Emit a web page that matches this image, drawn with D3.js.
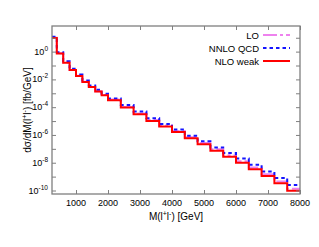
<!DOCTYPE html>
<html>
<head>
<meta charset="utf-8">
<script src="https://cdn.jsdelivr.net/npm/d3@7"></script>
<style>
  body { margin: 0; background: #fff; }
  text { font-family: "Liberation Sans", Arial, sans-serif; fill: #000; }
</style>
</head>
<body>
<div id="chart"></div>
<script>
// bin edges in GeV
let binEdges = [250, 400, 600, 800, 1000, 1200, 1400, 1600, 1800, 2000, 2400, 2800,
                3200, 3600, 4000, 4400, 4800, 5200, 5600, 6000, 6400, 6800, 7200, 7600, 8000];

// dsigma/dM per bin [fb/GeV]
let loValues = [10, 0.76, 0.162, 0.048, 0.0182, 0.0068, 0.003, 0.00141, 7.6e-4, 3.5e-4,
                1.05e-4, 3.5e-5, 1.17e-5, 4.7e-6, 1.9e-6, 6.9e-7, 2.6e-7, 9.3e-8, 3.5e-8,
                1.29e-8, 4.5e-9, 1.45e-9, 4.5e-10, 1.32e-10];
let nnloValues = [11.7, 0.89, 0.2, 0.059, 0.0224, 0.0083, 0.0037, 0.00178, 9.3e-4, 4.3e-4,
                  1.41e-4, 4.8e-5, 1.58e-5, 6.2e-6, 2.5e-6, 8.9e-7, 3.5e-7, 1.26e-7, 5.0e-8,
                  2.0e-8, 7.2e-9, 2.3e-9, 7.9e-10, 2.5e-10];
let nloWeakValues = [9.5, 0.74, 0.158, 0.047, 0.0174, 0.0065, 0.0028, 0.00132, 7.1e-4, 3.2e-4,
                     9.3e-5, 3.1e-5, 1.02e-5, 4.0e-6, 1.6e-6, 5.8e-7, 2.1e-7, 7.4e-8, 2.75e-8,
                     1.0e-8, 3.4e-9, 1.1e-9, 3.3e-10, 9.8e-11];

let xTicks = [1000, 2000, 3000, 4000, 5000, 6000, 7000, 8000];
let yTicks = [1e1, 1e0, 1e-1, 1e-2, 1e-3, 1e-4, 1e-5, 1e-6, 1e-7, 1e-8, 1e-9, 1e-10];
let yLabelExps = [0, -2, -4, -6, -8, -10];

let series = [
  {name: "LO", values: loValues, color: "#ee82ee", dash: "14,3,3,3"},
  {name: "NNLO QCD", values: nnloValues, color: "#1414ff", dash: "3.5,3"},
  {name: "NLO weak", values: nloWeakValues, color: "#ff0000", dash: null}
];

// setup SVG
let svgWidth = 319, svgHeight = 247;
let margin = {top: 26, right: 19, bottom: 53, left: 52};
let bodyWidth = svgWidth - margin.left - margin.right;
let bodyHeight = svgHeight - margin.top - margin.bottom;

let svg = d3.select("#chart").append("svg")
  .attr("width", svgWidth)
  .attr("height", svgHeight);

let chartGroup = svg.append("g")
  .attr("transform", `translate(${margin.left},${margin.top})`);

let xScale = d3.scaleLinear().domain([250, 8000]).range([0, bodyWidth]);
let yScale = d3.scaleLog().domain([5.6e-11, 70]).range([bodyHeight, 0]);

svg.append("defs").append("clipPath").attr("id", "clip")
  .append("rect").attr("width", bodyWidth).attr("height", bodyHeight);

// step lines
let line = d3.line()
  .x(d => xScale(d[0]))
  .y(d => yScale(d[1]))
  .curve(d3.curveStepAfter);

let plot = chartGroup.append("g").attr("clip-path", "url(#clip)");
series.forEach(s => {
  let pts = s.values.map((v, i) => [binEdges[i], v]);
  pts.push([binEdges[binEdges.length - 1], s.values[s.values.length - 1]]);
  plot.append("path")
    .datum(pts)
    .attr("d", line)
    .attr("fill", "none")
    .attr("stroke", s.color)
    .attr("stroke-width", 2)
    .attr("stroke-dasharray", s.dash);
});

// axes (ticks inward, mirrored)
let borderColor = "#7f7f7f";
function styleAxis(g) {
  g.select(".domain").remove();
  g.selectAll(".tick line").attr("stroke", borderColor).attr("stroke-width", 1);
  g.selectAll(".tick text").remove();
}
chartGroup.append("g").attr("transform", `translate(0,${bodyHeight})`)
  .call(d3.axisBottom(xScale).tickValues(xTicks).tickSize(-4).tickFormat(""))
  .call(styleAxis);
chartGroup.append("g")
  .call(d3.axisTop(xScale).tickValues(xTicks).tickSize(-4).tickFormat(""))
  .call(styleAxis);
chartGroup.append("g")
  .call(d3.axisLeft(yScale).tickValues(yTicks).tickSize(-4).tickFormat(""))
  .call(styleAxis);
chartGroup.append("g").attr("transform", `translate(${bodyWidth},0)`)
  .call(d3.axisRight(yScale).tickValues(yTicks).tickSize(-4).tickFormat(""))
  .call(styleAxis);

chartGroup.append("rect")
  .attr("width", bodyWidth).attr("height", bodyHeight)
  .attr("fill", "none").attr("stroke", borderColor).attr("stroke-width", 1.3);

// x tick labels
chartGroup.append("g").selectAll("text")
  .data(xTicks.filter(d => d >= 1000))
  .enter().append("text")
  .attr("x", d => xScale(d))
  .attr("y", bodyHeight + 12)
  .attr("text-anchor", "middle")
  .attr("font-size", "9px")
  .text(d => d);

// y tick labels 10^n
let yLab = chartGroup.append("g").selectAll("text")
  .data(yLabelExps)
  .enter().append("text")
  .attr("x", -4)
  .attr("y", d => yScale(Math.pow(10, d)) + 3)
  .attr("text-anchor", "end")
  .attr("font-size", "9px");
yLab.append("tspan").text("10");
yLab.append("tspan").attr("font-size", "6.5px").attr("dy", -4).text(d => d);

// axis titles
let xTitle = chartGroup.append("text")
  .attr("x", bodyWidth / 2)
  .attr("y", bodyHeight + 26)
  .attr("text-anchor", "middle")
  .attr("font-size", "10px");
xTitle.append("tspan").text("M(l");
xTitle.append("tspan").attr("font-size", "7px").attr("dy", -4).text("+");
xTitle.append("tspan").attr("dy", 4).text("l");
xTitle.append("tspan").attr("font-size", "7px").attr("dy", -4).text("-");
xTitle.append("tspan").attr("dy", 4).text(") [GeV]");

let yTitle = chartGroup.append("text")
  .attr("transform", `translate(${-margin.left + 31},${bodyHeight / 2}) rotate(-90)`)
  .attr("text-anchor", "middle")
  .attr("font-size", "10px");
yTitle.append("tspan").text("dσ/dM(l");
yTitle.append("tspan").attr("font-size", "7px").attr("dy", -4).text("+");
yTitle.append("tspan").attr("dy", 4).text("l");
yTitle.append("tspan").attr("font-size", "7px").attr("dy", -4).text("-");
yTitle.append("tspan").attr("dy", 4).text(") [fb/GeV]");

// legend
let legend = chartGroup.append("g")
  .selectAll("g")
  .data(series)
  .enter().append("g")
  .attr("transform", (d, i) => `translate(0,${9 + i * 13})`);
legend.append("text")
  .attr("x", 207)
  .attr("y", 3.5)
  .attr("text-anchor", "end")
  .attr("font-size", "9.5px")
  .text(d => d.name);
legend.append("line")
  .attr("x1", 211).attr("x2", 238)
  .attr("stroke", d => d.color)
  .attr("stroke-width", 2)
  .attr("stroke-dasharray", d => d.dash);
</script>
</body>
</html>
